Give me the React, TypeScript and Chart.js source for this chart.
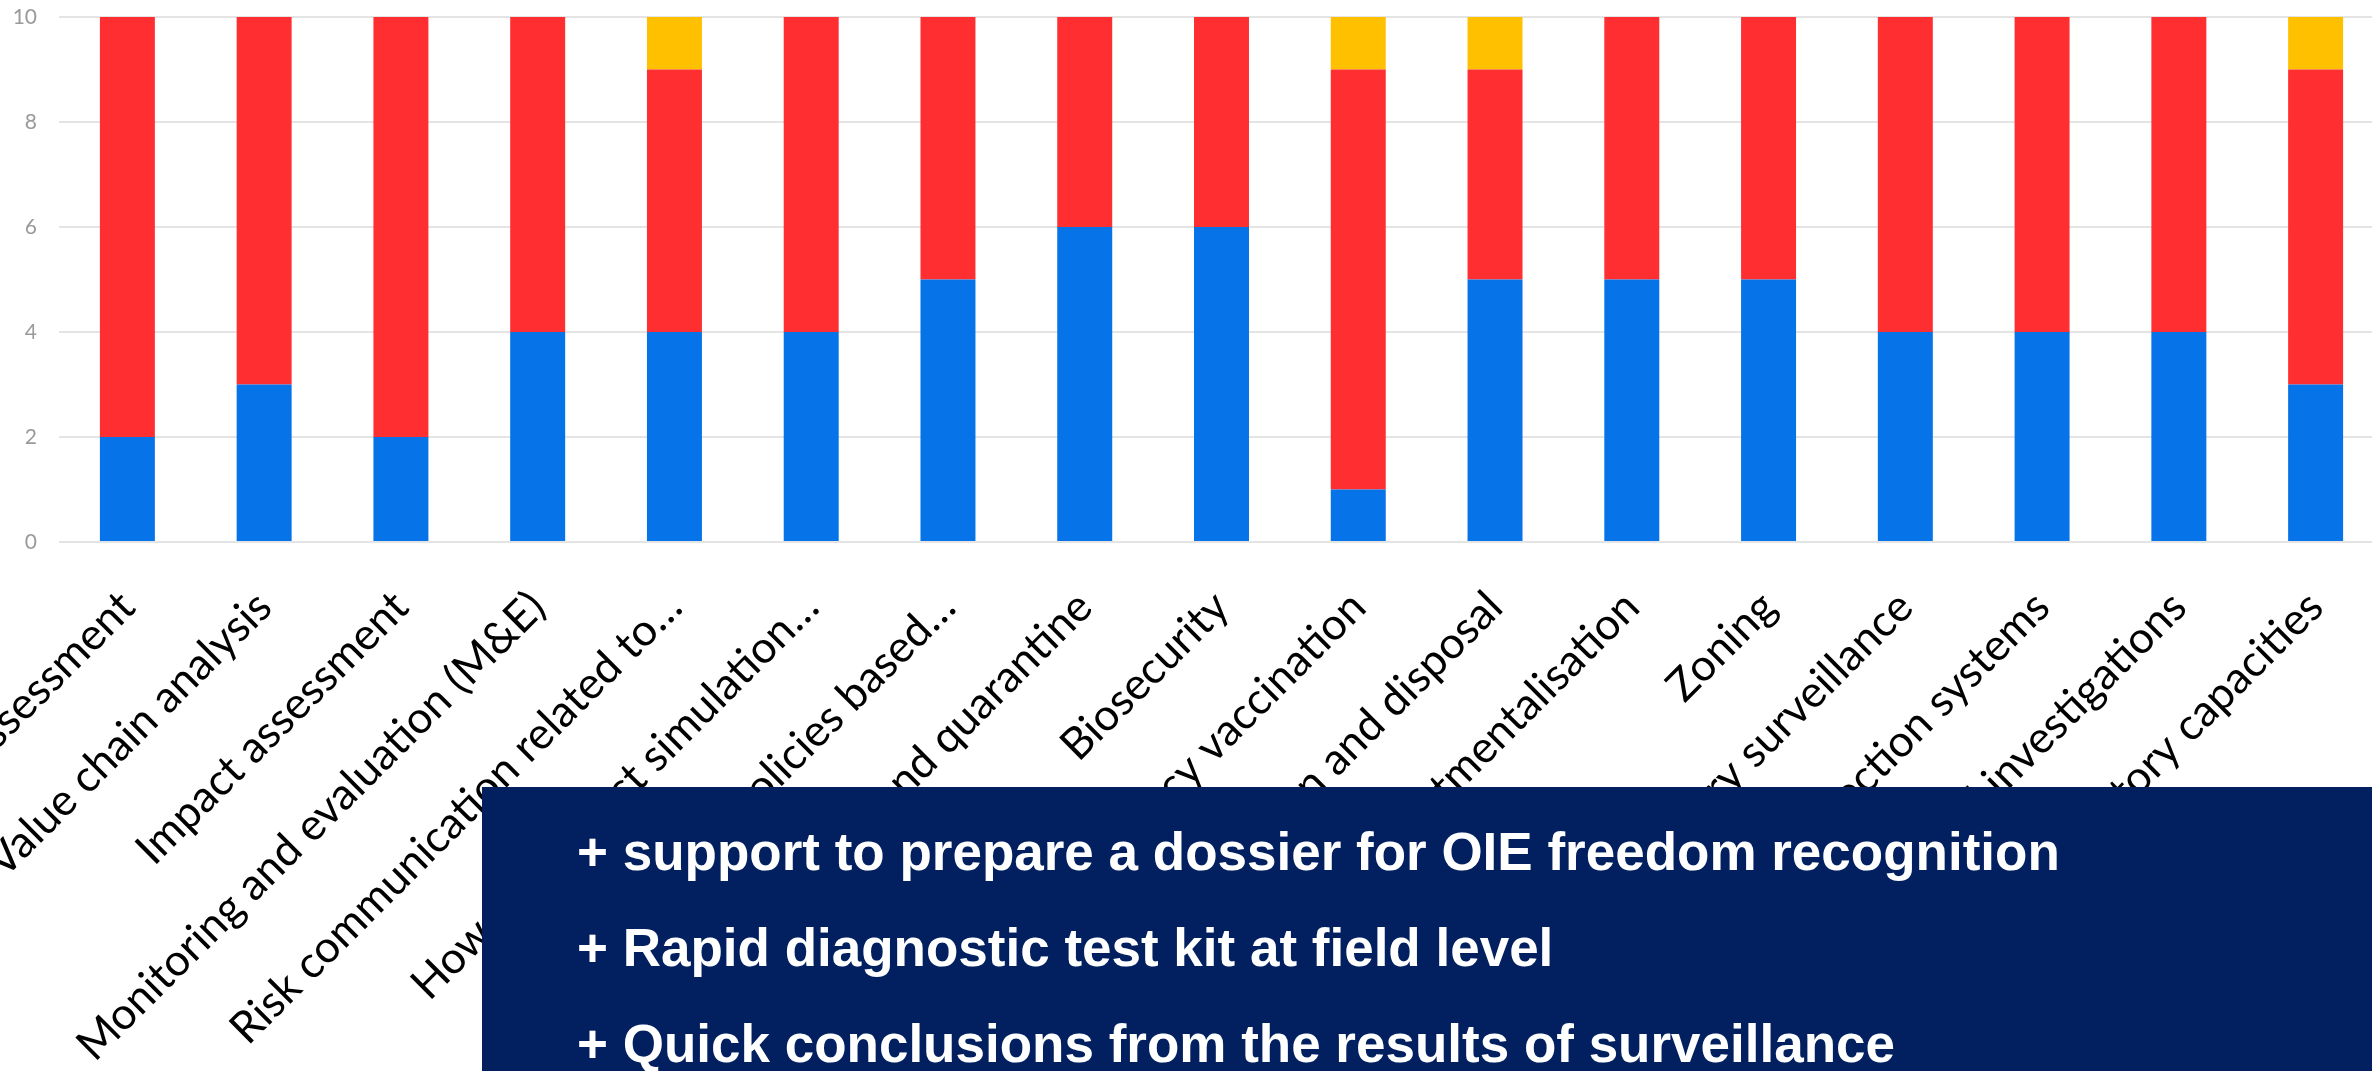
import React, { useEffect, useRef } from "react";
import { Chart, registerables } from "chart.js";

Chart.register(...registerables);

const categories = [
  "Risk assessment",
  "Value chain analysis",
  "Impact assessment",
  "Monitoring and evaluation (M&E)",
  "Risk communication related to…",
  "How to conduct simulation…",
  "Control policies based…",
  "Movement control and quarantine",
  "Biosecurity",
  "Emergency vaccination",
  "Carcass destruction and disposal",
  "Compartmentalisation",
  "Zoning",
  "Participatory surveillance",
  "Early detection systems",
  "Epidemiological investigations",
  "Laboratory capacities",
];

const blueValues = [2, 3, 2, 4, 4, 4, 5, 6, 6, 1, 5, 5, 5, 4, 4, 4, 3];
const redValues = [8, 7, 8, 6, 5, 6, 5, 4, 4, 8, 4, 5, 5, 6, 6, 6, 6];
const yellowValues = [0, 0, 0, 0, 1, 0, 0, 0, 0, 1, 1, 0, 0, 0, 0, 0, 1];

const yTicks = [0, 2, 4, 6, 8, 10];

const boxLines = [
  "+ support to prepare a dossier for OIE freedom recognition",
  "+ Rapid diagnostic test kit at field level",
  "+ Quick conclusions from the results of surveillance",
];

const CANVAS_W = 2384;
const CANVAS_H = 1071;

export default function App() {
  const ref = useRef<HTMLCanvasElement | null>(null);

  useEffect(() => {
    if (!ref.current) return;
    const chart = new Chart(ref.current, {
      type: "bar",
      data: {
        labels: categories,
        datasets: [
          { label: "Blue", data: blueValues, backgroundColor: "#0673E8", borderWidth: 0 },
          { label: "Red", data: redValues, backgroundColor: "#FF2F31", borderWidth: 0 },
          { label: "Yellow", data: yellowValues, backgroundColor: "#FFC000", borderWidth: 0 },
        ],
      },
      options: {
        animation: false,
        responsive: false,
        maintainAspectRatio: false,
        layout: { padding: { top: 17, left: 0, right: 0, bottom: 0 } },
        plugins: { legend: { display: false }, tooltip: { enabled: false } },
        datasets: { bar: { categoryPercentage: 1, barPercentage: 0.402 } },
        scales: {
          x: {
            stacked: true,
            grid: { display: false, drawTicks: false },
            border: { display: false },
            ticks: {
              autoSkip: false,
              maxRotation: 45,
              minRotation: 45,
              padding: 39,
              color: "#000000",
              font: { family: "Lato, 'Open Sans', sans-serif", size: 44 },
            },
            afterFit: (scale: any) => {
              scale.height = CANVAS_H - 542;
              scale.paddingLeft = 0;
              scale.paddingRight = 0;
            },
          },
          y: {
            stacked: true,
            min: 0,
            max: 10,
            afterBuildTicks: (scale: any) => {
              scale.ticks = yTicks.map((v) => ({ value: v }));
            },
            grid: { color: "#E4E4E4", lineWidth: 2, drawTicks: false },
            border: { display: false },
            ticks: {
              padding: 22,
              color: "#9A9A9A",
              font: { family: "Lato, 'Open Sans', sans-serif", size: 21 },
            },
            afterFit: (scale: any) => {
              scale.width = 59;
              scale.paddingTop = 0;
              scale.paddingBottom = 0;
            },
          },
        },
      },
    });
    return () => chart.destroy();
  }, []);

  return (
    <div
      style={{
        position: "fixed",
        left: 0,
        top: 0,
        width: "100vw",
        height: "100vh",
        overflow: "hidden",
        background: "#ffffff",
      }}
    >
      <canvas
        ref={ref}
        width={CANVAS_W}
        height={CANVAS_H}
        style={{ position: "absolute", left: 0, top: 0, width: CANVAS_W, height: CANVAS_H }}
      />
      <div
        style={{
          position: "absolute",
          left: 482,
          top: 787,
          right: 0,
          bottom: 0,
          background: "#022060",
          paddingLeft: 95,
          paddingTop: 17,
          boxSizing: "border-box",
        }}
      >
        {boxLines.map((t) => (
          <div
            key={t}
            style={{
              color: "#ffffff",
              fontFamily: "'Liberation Sans', Arial, sans-serif",
              fontWeight: "bold",
              fontSize: 53,
              lineHeight: "96px",
              whiteSpace: "nowrap",
            }}
          >
            {t}
          </div>
        ))}
      </div>
    </div>
  );
}
